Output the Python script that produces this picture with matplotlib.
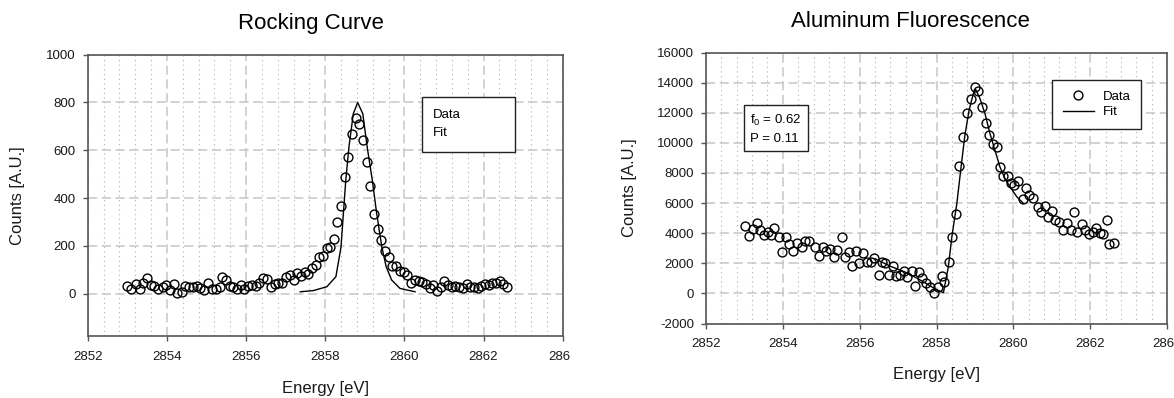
import matplotlib
matplotlib.use('Agg')
import matplotlib.pyplot as plt
from matplotlib.ticker import MultipleLocator, ScalarFormatter
from matplotlib.patches import Rectangle
from matplotlib.transforms import Bbox, TransformedBbox

plt.rcParams['font.family'] = ['Liberation Sans', 'DejaVu Sans']
plt.rcParams['mathtext.fontset'] = 'custom'
plt.rcParams['mathtext.rm'] = 'Liberation Sans'
plt.rcParams['axes.unicode_minus'] = False

# ---------------- data ----------------
rc_energy = [2853.00, 2853.09, 2853.23, 2853.31, 2853.40, 2853.50, 2853.59, 2853.68, 2853.78, 2853.89,
             2853.98, 2854.07, 2854.17, 2854.26, 2854.37, 2854.45, 2854.56, 2854.65, 2854.75, 2854.84,
             2854.93, 2855.03, 2855.15, 2855.24, 2855.34, 2855.40, 2855.50, 2855.59, 2855.68, 2855.78,
             2855.87, 2855.96, 2856.06, 2856.15, 2856.24, 2856.34, 2856.43, 2856.54, 2856.64, 2856.73,
             2856.82, 2856.92, 2857.01, 2857.10, 2857.20, 2857.29, 2857.38, 2857.48, 2857.57, 2857.66,
             2857.76, 2857.85, 2857.94, 2858.04, 2858.13, 2858.21, 2858.30, 2858.39, 2858.49, 2858.58,
             2858.67, 2858.77, 2858.86, 2858.95, 2859.05, 2859.14, 2859.23, 2859.33, 2859.42, 2859.51,
             2859.61, 2859.70, 2859.79, 2859.89, 2859.98, 2860.07, 2860.17, 2860.26, 2860.36, 2860.45,
             2860.54, 2860.64, 2860.73, 2860.82, 2860.92, 2861.01, 2861.10, 2861.20, 2861.29, 2861.38,
             2861.48, 2861.57, 2861.66, 2861.76, 2861.85, 2861.94, 2862.04, 2862.13, 2862.22, 2862.32,
             2862.41, 2862.50, 2862.60]
rc_counts = [33, 21, 39, 21, 43, 67, 36, 33, 21, 26,
             36, 15, 40, 3, 6, 32, 29, 29, 32, 22,
             15, 43, 18, 18, 29, 70, 57, 31, 26, 21,
             36, 18, 32, 36, 32, 43, 67, 60, 29, 40,
             46, 46, 71, 78, 57, 85, 74, 92, 82, 109,
             118, 152, 157, 190, 196, 229, 301, 368, 488, 570,
             670, 736, 708, 645, 552, 450, 333, 269, 224, 180,
             152, 117, 117, 96, 92, 79, 43, 57, 54, 50,
             40, 24, 36, 13, 29, 53, 35, 29, 32, 26,
             22, 39, 26, 29, 22, 33, 39, 36, 46, 46,
             53, 40, 26]

rc_fit_energy = [2857.37, 2857.70, 2858.04, 2858.27, 2858.40, 2858.46, 2858.52, 2858.60, 2858.71, 2858.82,
                 2858.95, 2859.06, 2859.19, 2859.30, 2859.43, 2859.54, 2859.68, 2859.89, 2860.27]
rc_fit_counts = [8, 13, 29, 71, 196, 337, 475, 614, 753, 800,
                 753, 614, 475, 336, 196, 113, 57, 22, 8]

al_energy = [2853.02, 2853.13, 2853.23, 2853.32, 2853.41, 2853.52, 2853.62, 2853.69, 2853.77, 2853.90,
             2853.99, 2854.08, 2854.17, 2854.27, 2854.36, 2854.49, 2854.58, 2854.67, 2854.84, 2854.95,
             2855.04, 2855.12, 2855.23, 2855.33, 2855.42, 2855.53, 2855.63, 2855.71, 2855.79, 2855.90,
             2855.99, 2856.09, 2856.18, 2856.29, 2856.37, 2856.50, 2856.57, 2856.67, 2856.76, 2856.86,
             2856.95, 2857.05, 2857.15, 2857.24, 2857.35, 2857.44, 2857.55, 2857.61, 2857.73, 2857.83,
             2857.94, 2858.05, 2858.14, 2858.20, 2858.33, 2858.40, 2858.51, 2858.59, 2858.70, 2858.79,
             2858.89, 2859.00, 2859.09, 2859.18, 2859.29, 2859.37, 2859.46, 2859.57, 2859.65, 2859.74,
             2859.85, 2859.93, 2860.02, 2860.13, 2860.26, 2860.33, 2860.42, 2860.52, 2860.63, 2860.72,
             2860.83, 2860.91, 2861.00, 2861.09, 2861.20, 2861.28, 2861.39, 2861.49, 2861.57, 2861.67,
             2861.78, 2861.87, 2861.97, 2862.07, 2862.15, 2862.25, 2862.33, 2862.44, 2862.50, 2862.63]
al_counts = [4470, 3810, 4250, 4700, 4210, 3880, 4080, 3880, 4320, 3730,
             2750, 3730, 3260, 2820, 3330, 3100, 3500, 3480, 3100, 2500,
             3100, 2820, 2950, 2400, 2880, 3770, 2440, 2730, 1820, 2840,
             2040, 2660, 2090, 2090, 2350, 1240, 2090, 2040, 1240, 1820,
             1160, 1200, 1510, 1070, 1510, 490, 1440, 1000, 710, 400,
             10, 400, 1160, 780, 2070, 3770, 5250, 8480, 10400, 11960,
             12910, 13730, 13440, 12400, 11330, 10520, 9920, 9700, 8410, 7820,
             7800, 7310, 7200, 7480, 6250, 6980, 6550, 6320, 5760, 5430,
             5800, 5090, 5450, 4900, 4720, 4190, 4670, 4190, 5430, 4050,
             4630, 4230, 3940, 4050, 4340, 4010, 3940, 4850, 3280, 3350]

al_fit_energy = [2856.40, 2856.80, 2857.20, 2857.50, 2857.80, 2858.00, 2858.18, 2858.31, 2858.40, 2858.53,
                 2858.64, 2858.74, 2858.85, 2858.96, 2859.02, 2859.13, 2859.26, 2859.39, 2859.52, 2859.65,
                 2859.78, 2859.91, 2860.09, 2860.26]
al_fit_counts = [2300, 1800, 1400, 1000, 550, 250, 50, 1780, 3770, 5980,
                 8410, 10520, 12180, 13290, 13550, 12950, 11960, 10630, 9520, 8410,
                 7640, 7090, 6420, 5980]

x_ticks = [2852, 2854, 2856, 2858, 2860, 2862, 2864]
legend_labels = ['Data', 'Fit']
fit_params = "f$_\\mathregular{0}$ = 0.62\nP = 0.11"

# ---------------- figure ----------------
W, H = 1174, 398
fig = plt.figure(figsize=(W / 100, H / 100), dpi=100)
ax1 = fig.add_axes([87.7 / W, (H - 336) / H, 475 / W, 281.3 / H])
ax2 = fig.add_axes([706 / W, (H - 323.5) / H, 461 / W, 271 / H])

TICK_FS = 9.5
LABEL_FS = 12
SPINE_C = '#555555'


def style(ax, ylim, ymaj):
    ax.set_xlim(2852, 2864)
    ax.set_ylim(*ylim)
    ax.set_xticks(x_ticks)
    ax.xaxis.set_minor_locator(MultipleLocator(0.4))
    ax.yaxis.set_major_locator(MultipleLocator(ymaj))
    ax.xaxis.set_major_formatter(ScalarFormatter(useOffset=False))
    ax.grid(which='major', color='#c6c6c6', linestyle=(0, (6, 3)), linewidth=1.1)
    ax.grid(which='minor', axis='x', color='#b0b0b0', linestyle=(0, (1, 3.2)), linewidth=0.8)
    ax.set_axisbelow(True)
    ax.tick_params(which='major', direction='out', length=3.6, width=1.0, color=SPINE_C,
                   labelsize=TICK_FS, labelcolor='#1a1a1a')
    ax.tick_params(which='minor', length=0)
    ax.tick_params(axis='x', pad=7)
    ax.tick_params(axis='y', pad=5)
    for s in ax.spines.values():
        s.set_color(SPINE_C)
        s.set_linewidth(1.2)
    ax.set_xlabel('Energy [eV]', fontsize=LABEL_FS, color='#1a1a1a')
    ax.set_ylabel('Counts [A.U.]', fontsize=LABEL_FS, color='#1a1a1a')
    ax.xaxis.label.set_verticalalignment('center')
    ax.yaxis.label.set_verticalalignment('center')


# ---- left: rocking curve ----
style(ax1, (-177, 1000), 200)
ax1.plot(rc_fit_energy, rc_fit_counts, color='black', lw=1.0, zorder=3)
ax1.plot(rc_energy, rc_counts, linestyle='none', marker='o', ms=6.4,
         mfc='none', mec='black', mew=1.0, zorder=4)
ax1.xaxis.set_label_coords(0.5, -0.185)
ax1.yaxis.set_label_coords(-0.147, 0.5)
# legend box (text only, as in the original)
ax1.add_patch(Rectangle((0.704, 0.655), 0.196, 0.196, transform=ax1.transAxes,
                        facecolor='white', edgecolor='#222222', lw=1.0, zorder=5))
ax1.text(0.727, 0.787, legend_labels[0], transform=ax1.transAxes, ha='left', va='center',
         fontsize=TICK_FS, zorder=6)
ax1.text(0.727, 0.720, legend_labels[1], transform=ax1.transAxes, ha='left', va='center',
         fontsize=TICK_FS, zorder=6)

# ---- right: aluminum fluorescence ----
style(ax2, (-2000, 16000), 2000)
fit_line, = ax2.plot(al_fit_energy, al_fit_counts, color='black', lw=1.0, zorder=3)
data_pts, = ax2.plot(al_energy, al_counts, linestyle='none', marker='o', ms=6.4,
                     mfc='none', mec='black', mew=1.0, zorder=4)
ax2.xaxis.set_label_coords(0.5, -0.19)
ax2.yaxis.set_label_coords(-0.165, 0.5)
leg2 = ax2.legend([data_pts, fit_line], legend_labels, loc='upper left',
                  bbox_to_anchor=(0.751, 0.898), borderaxespad=0, handlelength=2.35,
                  handletextpad=0.7, borderpad=0.8, labelspacing=0.25, fontsize=TICK_FS,
                  fancybox=False, framealpha=1, edgecolor='#222222')
leg2.get_frame().set_linewidth(1.0)
ax2.text(0.152, 0.718, fit_params, transform=ax2.transAxes, ha='center', va='center',
         multialignment='left', fontsize=TICK_FS, linespacing=1.5, zorder=5,
         bbox=dict(boxstyle='square,pad=0.5', fc='white', ec='#222222', lw=1.0))

# titles
fig.text(311 / W, 1 - 23 / H, 'Rocking Curve', ha='center', va='center', fontsize=16)
fig.text(910 / W, 1 - 21.7 / H, 'Aluminum Fluorescence', ha='center', va='center', fontsize=16)

# clip the last x tick label of the left panel at the panel edge
clip_box = TransformedBbox(Bbox.from_extents(0, 0, 570 / W, 1), fig.transFigure)
last_tick = ax1.xaxis.get_major_ticks()[-1]
last_tick.label1.set_clip_on(True)
last_tick.label1.set_clip_box(clip_box)

fig.savefig('out.png', dpi=100)
